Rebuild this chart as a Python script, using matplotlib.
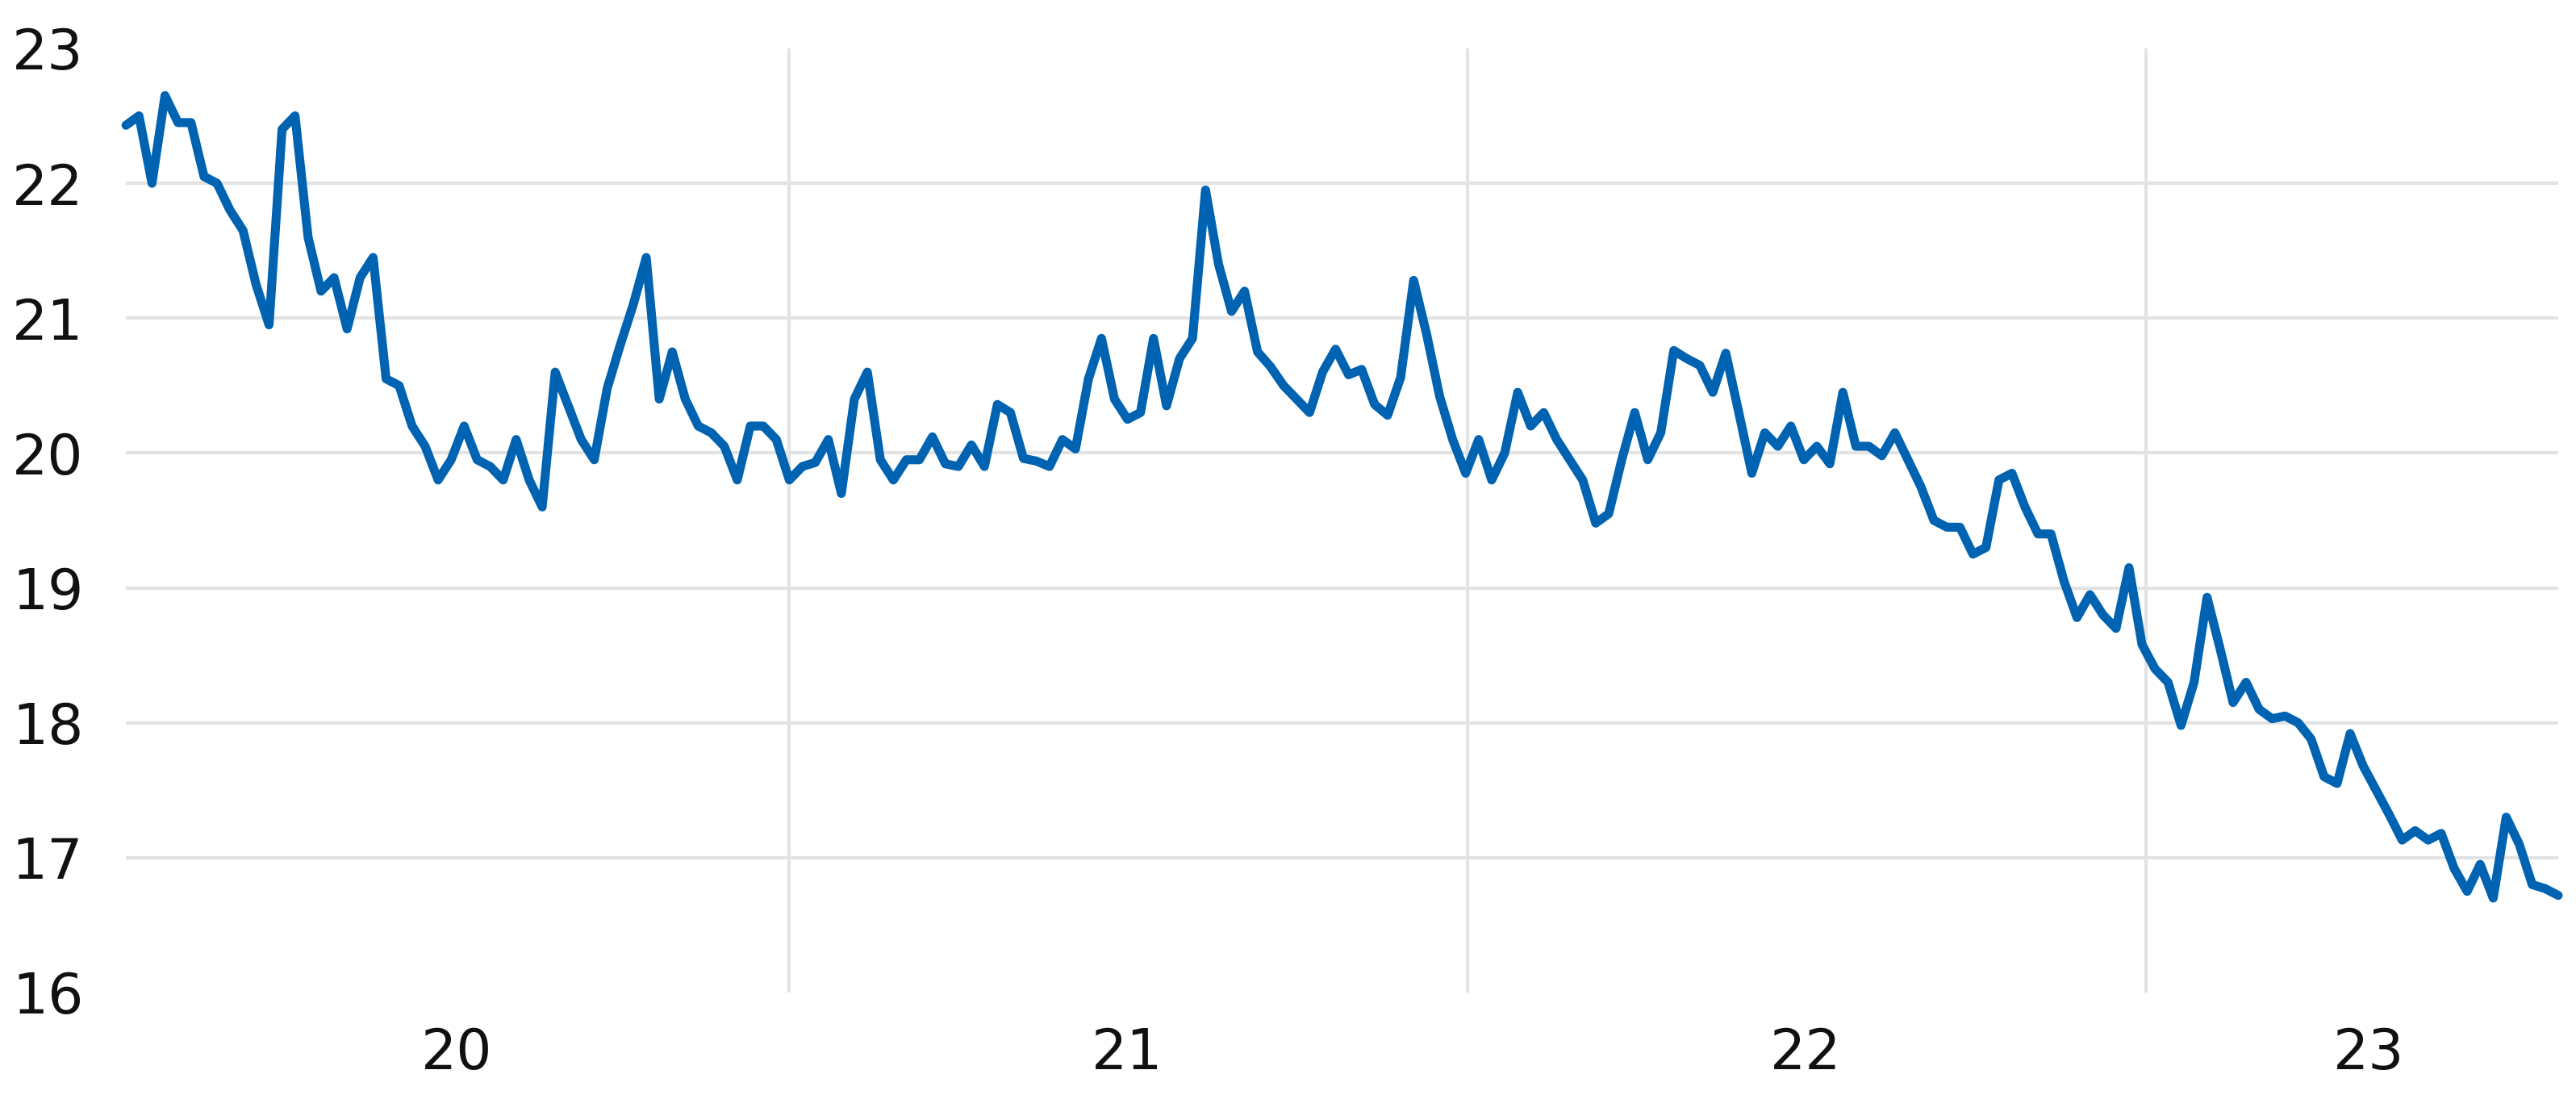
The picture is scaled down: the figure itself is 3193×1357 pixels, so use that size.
import matplotlib
matplotlib.use("Agg")
import matplotlib.pyplot as plt
import pandas as pd

# weekly readings, first one on 2020-01-10
start_date = "2020-01-10"

vals_2020 = [22.43, 22.5, 22.0, 22.65, 22.45, 22.45, 22.05, 22.0, 21.8, 21.65,
             21.25, 20.95, 22.4, 22.5, 21.6, 21.2, 21.3, 20.92, 21.3, 21.45,
             20.55, 20.5, 20.2, 20.05, 19.8, 19.95, 20.2, 19.95, 19.9, 19.8,
             20.1, 19.8, 19.6, 20.6, 20.35, 20.1, 19.95, 20.48, 20.8, 21.1,
             21.45, 20.4, 20.75, 20.4, 20.2, 20.15, 20.05, 19.8, 20.2, 20.2,
             20.1]
vals_2021 = [19.8, 19.9, 19.93, 20.1, 19.7, 20.4, 20.6, 19.95, 19.8, 19.95,
             19.95, 20.12, 19.92, 19.9, 20.06, 19.9, 20.36, 20.3, 19.96, 19.94,
             19.9, 20.1, 20.03, 20.55, 20.85, 20.4, 20.25, 20.3, 20.85, 20.35,
             20.7, 20.85, 21.95, 21.4, 21.05, 21.2, 20.75, 20.64, 20.5, 20.4,
             20.3, 20.6, 20.77, 20.58, 20.62, 20.36, 20.28, 20.56, 21.28, 20.88,
             20.42, 20.1, 19.85]
vals_2022 = [20.1, 19.8, 20.0, 20.45, 20.2, 20.3, 20.1, 19.95, 19.8, 19.48,
             19.55, 19.95, 20.3, 19.95, 20.15, 20.76, 20.7, 20.65, 20.45, 20.74,
             20.3, 19.85, 20.15, 20.05, 20.2, 19.95, 20.05, 19.92, 20.45, 20.05,
             20.05, 19.98, 20.15, 19.95, 19.75, 19.5, 19.45, 19.45, 19.25, 19.3,
             19.8, 19.85, 19.6, 19.4, 19.4, 19.05, 18.78, 18.95, 18.8, 18.7,
             19.15, 18.58]
vals_2023 = [18.4, 18.3, 17.98, 18.3, 18.93, 18.55, 18.15, 18.3, 18.1, 18.03,
             18.05, 18.0, 17.88, 17.6, 17.55, 17.92, 17.68, 17.5, 17.32, 17.13,
             17.2, 17.13, 17.18, 16.92, 16.75, 16.95, 16.7, 17.3, 17.1, 16.8,
             16.77, 16.72]

year_labels = ["20", "21", "22", "23"]
label_dates = ["2020-07-06", "2021-07-02", "2022-07-02", "2023-05-01"]
year_starts = ["2021-01-01", "2022-01-01", "2023-01-01"]
y_ticks = [16, 17, 18, 19, 20, 21, 22, 23]


values = vals_2020 + vals_2021 + vals_2022 + vals_2023
dates = pd.date_range(start_date, periods=len(values), freq="7D")

fig = plt.figure(figsize=(31.93, 13.57), dpi=100)
ax = fig.add_axes([0.0489, 0.0936, 0.9442, 0.8622])

ax.plot(dates, values, color="#0063b2", lw=8,
        solid_joinstyle="round", solid_capstyle="round", clip_on=False)

ax.set_xlim(dates[0], dates[-1])
ax.set_ylim(16, 23)
ax.set_yticks(y_ticks)

# year boundaries carry the vertical gridlines, labels sit mid-year
ax.set_xticks(pd.to_datetime(year_starts))
ax.set_xticklabels([])
ax.set_xticks(pd.to_datetime(label_dates), minor=True)
ax.set_xticklabels(year_labels, minor=True)

ax.tick_params(axis="both", which="both", length=0, labelsize=50, labelcolor="#111111")
ax.tick_params(axis="y", pad=38)
ax.tick_params(axis="x", which="minor", pad=30)

ax.grid(True, which="major", color="#e3e3e3", lw=3)
ygrid = ax.yaxis.get_gridlines()
ygrid[0].set_visible(False)
ygrid[-1].set_visible(False)
ax.set_axisbelow(True)

for s in ax.spines.values():
    s.set_visible(False)

fig.savefig("out.png", dpi=100)
